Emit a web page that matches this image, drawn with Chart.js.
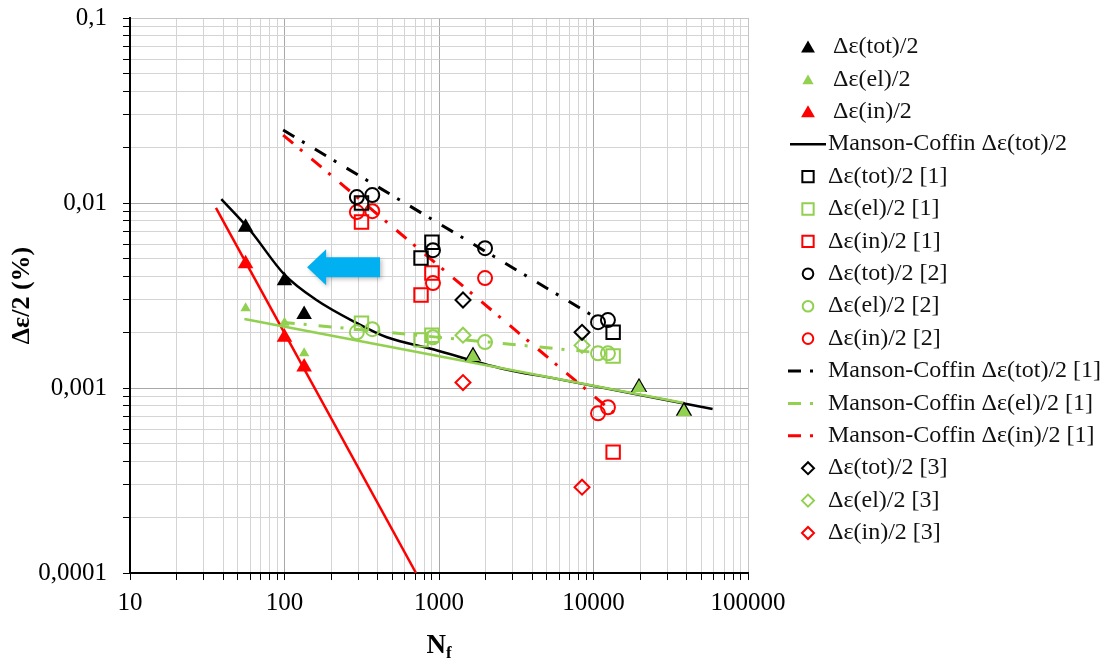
<!DOCTYPE html>
<html>
<head>
<meta charset="utf-8">
<title>Manson-Coffin</title>
<script src="https://cdn.jsdelivr.net/npm/chart.js@4.4.1/dist/chart.umd.min.js"></script>
<style>
  html, body { margin: 0; padding: 0; background: #fff; }
  #wrap { width: 1111px; height: 661px; position: relative; }
</style>
</head>
<body>
<div id="wrap"><canvas id="fatigueChart"></canvas></div>
<script>
// axis decades + labels
const xDecades = [10, 100, 1000, 10000, 100000];
const xTickLabels = ['10', '100', '1000', '10000', '100000'];
const yDecades = [0.0001, 0.001, 0.01, 0.1];
const yTickLabels = ['0,0001', '0,001', '0,01', '0,1'];

// own tests (filled triangles)
const testN = [56, 100, 134, 1660, 19700, 38500];
const totTest = [0.0074, 0.0038, 0.0025, 0.00149, 0.00101, 0.00075];
const elTest = [0.0027, 0.00225, 0.00154, 0.00147, 0.001, 0.00074];
const inTestN = [56, 100, 134];
const inTest = [0.0047, 0.00188, 0.0013];

// Manson-Coffin fit (own tests)
const mcTotN = [39, 60, 100, 160, 295, 460, 915, 2500, 5800, 59000];
const mcTot = [0.0105, 0.0071, 0.0041, 0.003, 0.00224, 0.00188, 0.00162, 0.00128, 0.00112, 0.00077];
const mcElN = [55, 38500];
const mcEl = [0.00236, 0.00083];
const mcInN = [36, 710];
const mcIn = [0.0094, 0.0001];

// reference [1] (squares)
const ref1N = [315, 900, 765, 13400];
const ref1Tot = [0.01, 0.00614, 0.00504, 0.002];
const ref1El = [0.00224, 0.00193, 0.00182, 0.00149];
const ref1In = [0.0079, 0.00418, 0.00318, 0.00045];

// reference [2] (circles)
const ref2N = [294, 370, 914, 1986, 10700, 12400];
const ref2Tot = [0.01077, 0.01104, 0.00556, 0.0057, 0.00227, 0.00233];
const ref2El = [0.002, 0.00208, 0.00188, 0.00177, 0.00154, 0.00154];
const ref2In = [0.00893, 0.00903, 0.00369, 0.00393, 0.00073, 0.000787];

// Manson-Coffin fit of reference [1]
const mc1TotN = [98, 11000];
const mc1Tot = [0.0248, 0.00233];
const mc1ElN = [96, 10000];
const mc1El = [0.00227, 0.00156];
const mc1InN = [98, 14200];
const mc1In = [0.0233, 0.00071];

// reference [3] (diamonds)
const ref3N = [1430, 8430];
const ref3Tot = [0.00299, 0.002];
const ref3El = [0.00193, 0.0017];
const ref3In = [0.00107, 0.000291];

// arrow annotation (data coords)
const arrowN = { tip: 140, head: 186, tail: 415 };
const arrowStrain = 0.0045;

const BLACK = '#000000';
const GREEN = '#92d050';
const RED = '#ff0000';
const FONT = '"Liberation Serif", "Times New Roman", serif';

const pts = (xs, ys) => xs.map((x, i) => ({ x: x, y: ys[i] }));

function filled(label, xs, ys, color, radius, order) {
    return { label, data: pts(xs, ys), pointStyle: 'triangle', pointRadius: radius,
        backgroundColor: color, borderColor: color, borderWidth: 0, showLine: false, order };
}
function open(label, xs, ys, color, style, radius) {
    return { label, data: pts(xs, ys), pointStyle: style, pointRadius: radius,
        backgroundColor: 'rgba(0,0,0,0)', borderColor: color, borderWidth: 2, showLine: false, order: 2 };
}
function fit(label, xs, ys, color, dashed, order) {
    return { label, data: pts(xs, ys), showLine: true, pointRadius: 0, borderColor: color,
        backgroundColor: color, borderWidth: dashed ? 3 : 2.5, borderDash: dashed ? [13, 9, 3, 12] : [],
        cubicInterpolationMode: 'monotone', order };
}

const datasets = [
    filled('Δε(tot)/2', testN, totTest, BLACK, ctx => ctx.dataIndex < 3 ? 9 : 9.5, 1),
    filled('Δε(el)/2', testN, elTest, GREEN, ctx => ctx.dataIndex < 3 ? 6 : 8, 0),
    filled('Δε(in)/2', inTestN, inTest, RED, 9, 0),
    fit('Manson-Coffin Δε(tot)/2', mcTotN, mcTot, BLACK, false, 4),
    open('Δε(tot)/2 [1]', ref1N, ref1Tot, BLACK, 'rect', 9.5),
    open('Δε(el)/2 [1]', ref1N, ref1El, GREEN, 'rect', 9.5),
    open('Δε(in)/2 [1]', ref1N, ref1In, RED, 'rect', 9.5),
    open('Δε(tot)/2 [2]', ref2N, ref2Tot, BLACK, 'circle', 7),
    open('Δε(el)/2 [2]', ref2N, ref2El, GREEN, 'circle', 7),
    open('Δε(in)/2 [2]', ref2N, ref2In, RED, 'circle', 7),
    fit('Manson-Coffin Δε(tot)/2 [1]', mc1TotN, mc1Tot, BLACK, true, 5),
    fit('Manson-Coffin Δε(el)/2 [1]', mc1ElN, mc1El, GREEN, true, 5),
    fit('Manson-Coffin Δε(in)/2 [1]', mc1InN, mc1In, RED, true, 5),
    open('Δε(tot)/2 [3]', ref3N, ref3Tot, BLACK, 'rectRot', 7.5),
    open('Δε(el)/2 [3]', ref3N, ref3El, GREEN, 'rectRot', 7.5),
    open('Δε(in)/2 [3]', ref3N, ref3In, RED, 'rectRot', 7.5)
];
// fits of el / in for own tests: drawn, not in legend
const mcElSet = fit('Manson-Coffin Δε(el)/2', mcElN, mcEl, GREEN, false, 3);
const mcInSet = fit('Manson-Coffin Δε(in)/2', mcInN, mcIn, RED, false, 3);
mcElSet.noLegend = true;
mcInSet.noLegend = true;
datasets.push(mcElSet, mcInSet);

// 1..9 per decade for the grid
const gridValues = decades => {
    const out = [];
    decades.forEach((d, i) => {
        if (i === decades.length - 1) { out.push(d); return; }
        for (let k = 1; k <= 9; k++) out.push(d * k);
    });
    return out;
};
const isDecade = v => Math.abs(Math.log10(v) - Math.round(Math.log10(v))) < 1e-6;
const labelFor = (v, decades, labels) => {
    const i = decades.findIndex(d => Math.abs(Math.log10(d) - Math.log10(v)) < 1e-6);
    return i >= 0 ? labels[i] : '';
};
const gridColor = max => c => {
    const v = c.tick ? c.tick.value : 0;
    if (Math.abs(v - max) / max < 1e-6) return '#c4c4c4';
    return isDecade(v) ? '#a8a8a8' : '#d4d4d4';
};
// keep label overhang from pushing the plot area around
const noOverhang = s => { s.paddingTop = 0; s.paddingBottom = 0; s.paddingLeft = 0; s.paddingRight = 0; };

function drawMarker(ctx, style, x, y, r) {
    ctx.beginPath();
    if (style === 'triangle') {
        for (let k = 0; k < 3; k++) {
            const a = k * 2 * Math.PI / 3;
            const px = x + Math.sin(a) * r, py = y - Math.cos(a) * r;
            k === 0 ? ctx.moveTo(px, py) : ctx.lineTo(px, py);
        }
        ctx.closePath();
    } else if (style === 'rect') {
        const s = r * Math.SQRT1_2;
        ctx.rect(x - s, y - s, 2 * s, 2 * s);
    } else if (style === 'circle') {
        ctx.arc(x, y, r, 0, Math.PI * 2);
    } else if (style === 'rectRot') {
        ctx.moveTo(x - r, y); ctx.lineTo(x, y - r); ctx.lineTo(x + r, y); ctx.lineTo(x, y + r);
        ctx.closePath();
    }
}

// Right-hand legend
const sideLegend = {
    id: 'sideLegend',
    afterDraw(chart) {
        const ctx = chart.ctx;
        const top = 47, step = 32.4;
        ctx.save();
        ctx.font = '24px ' + FONT;
        ctx.textBaseline = 'middle';
        ctx.fillStyle = '#111';
        let row = 0;
        chart.data.datasets.forEach(ds => {
            if (ds.noLegend) return;
            const y = top + row * step;
            row++;
            let textX = 828;
            if (ds.showLine) {
                ctx.save();
                ctx.strokeStyle = ds.borderColor;
                ctx.lineWidth = ds.borderDash.length ? 3 : 2.5;
                ctx.setLineDash(ds.borderDash.length ? [13, 9, 3, 40] : []);
                ctx.beginPath();
                ctx.moveTo(ds.borderDash.length ? 788 : 790, y);
                ctx.lineTo(826, y);
                ctx.stroke();
                ctx.restore();
            } else {
                ctx.save();
                let r = { triangle: 8, rect: 8, circle: 5.3, rectRot: 6 }[ds.pointStyle];
                if (ds.pointStyle === 'triangle' && ds.backgroundColor === GREEN) r = 6.5;
                drawMarker(ctx, ds.pointStyle, 808, ds.pointStyle === 'triangle' ? y + 1.5 : y, r);
                if (ds.pointStyle === 'triangle') {
                    ctx.fillStyle = ds.backgroundColor;
                    ctx.fill();
                    textX = 833;
                } else {
                    ctx.strokeStyle = ds.borderColor;
                    ctx.lineWidth = 2;
                    ctx.stroke();
                }
                ctx.restore();
            }
            ctx.fillText(ds.label, textX, y);
        });
        ctx.restore();
    }
};

// blue arrow + N_f title
const extras = {
    id: 'extras',
    afterDatasetsDraw(chart) {
        const { ctx, scales: { x, y } } = chart;
        const tip = x.getPixelForValue(arrowN.tip);
        const head = x.getPixelForValue(arrowN.head);
        const tail = x.getPixelForValue(arrowN.tail);
        const cy = y.getPixelForValue(arrowStrain);
        ctx.save();
        ctx.shadowColor = 'rgba(0,0,0,0.25)';
        ctx.shadowBlur = 4;
        ctx.shadowOffsetX = 2;
        ctx.shadowOffsetY = 2;
        ctx.fillStyle = '#00b0f0';
        ctx.beginPath();
        ctx.moveTo(tip, cy);
        ctx.lineTo(head, cy - 18);
        ctx.lineTo(head, cy - 10);
        ctx.lineTo(tail, cy - 10);
        ctx.lineTo(tail, cy + 10);
        ctx.lineTo(head, cy + 10);
        ctx.lineTo(head, cy + 18);
        ctx.closePath();
        ctx.fill();
        ctx.restore();
    },
    afterDraw(chart) {
        const { ctx, chartArea } = chart;
        ctx.save();
        ctx.fillStyle = '#000';
        ctx.textBaseline = 'alphabetic';
        ctx.font = 'bold 27px ' + FONT;
        const wN = ctx.measureText('N').width;
        ctx.font = 'bold 17px ' + FONT;
        const wf = ctx.measureText('f').width;
        const start = (chartArea.left + chartArea.right) / 2 - (wN + wf) / 2;
        ctx.font = 'bold 27px ' + FONT;
        ctx.fillText('N', start, 653);
        ctx.font = 'bold 17px ' + FONT;
        ctx.fillText('f', start + wN, 658);
        ctx.restore();
    }
};

new Chart(document.getElementById('fatigueChart'), {
    type: 'scatter',
    data: { datasets },
    options: {
        responsive: true,
        maintainAspectRatio: false,
        animation: false,
        layout: { padding: { top: 18, right: 363, bottom: 0, left: 0 } },
        plugins: { legend: { display: false }, tooltip: { enabled: false } },
        scales: {
            x: {
                type: 'logarithmic',
                min: 10,
                max: 100000,
                afterFit: s => { s.height = 88; noOverhang(s); },
                afterBuildTicks: s => { s.ticks = gridValues(xDecades).map(v => ({ value: v })); },
                ticks: {
                    autoSkip: false, maxRotation: 0, padding: 8, color: '#000',
                    font: { family: FONT, size: 25 },
                    callback: v => labelFor(v, xDecades, xTickLabels)
                },
                grid: { color: gridColor(100000), tickColor: '#000', tickLength: 7, lineWidth: 1 },
                border: { color: '#000', width: 2 },
                title: { display: false }
            },
            y: {
                type: 'logarithmic',
                min: 0.0001,
                max: 0.1,
                afterFit: s => { s.width = 130; noOverhang(s); },
                afterBuildTicks: s => { s.ticks = gridValues(yDecades).map(v => ({ value: v })); },
                ticks: {
                    autoSkip: false, padding: 16, color: '#000',
                    font: { family: FONT, size: 25 },
                    callback: v => labelFor(v, yDecades, yTickLabels)
                },
                grid: { color: gridColor(0.1), tickColor: '#000', tickLength: 7, lineWidth: 1 },
                border: { color: '#000', width: 2 },
                title: {
                    display: true, text: 'Δε/2 (%)', color: '#000',
                    font: { family: FONT, size: 26, weight: 'bold' },
                    padding: { top: 7, bottom: 0 }
                }
            }
        }
    },
    plugins: [extras, sideLegend]
});
</script>
</body>
</html>
